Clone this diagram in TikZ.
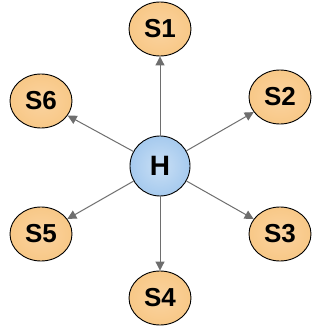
\documentclass[tikz,border=0pt]{standalone}
\usepackage{fontspec}
\setmainfont{Liberation Sans}
\usetikzlibrary{arrows.meta,shapes.geometric}
\definecolor{sfill}{HTML}{F8C887}
\definecolor{sinner}{HTML}{FAD3A0}
\definecolor{hfill}{HTML}{A6CAEE}
\definecolor{hinner}{HTML}{C9DFF5}
\definecolor{arr}{HTML}{6E6E6E}
\tikzset{
  snode/.style={ellipse,draw=black,line width=0.9pt,minimum width=62pt,minimum height=54pt,inner sep=0pt,
    inner color=sinner,outer color=sfill,font=\fontsize{26}{26}\selectfont\bfseries},
  hnode/.style={circle,draw=black,line width=0.9pt,minimum size=60pt,inner sep=0pt,
    inner color=hinner,outer color=hfill,font=\fontsize{28}{28}\selectfont\bfseries},
  link/.style={draw=arr,line width=1pt,-{Triangle[length=9pt,width=9pt]}}
}
\begin{document}
\begin{tikzpicture}[x=1pt,y=-1pt]
\useasboundingbox (0,0) rectangle (336,328);
\node[hnode] (H) at (160,166) {H};
\node[snode] (S1) at (160,29) {S1};
\node[snode] (S2) at (280,97) {S2};
\node[snode] (S3) at (280,234) {S3};
\node[snode] (S4) at (160,298) {S4};
\node[snode] (S5) at (41,234) {S5};
\node[snode] (S6) at (41,101) {S6};
\foreach \s in {S1,S2,S3,S4,S5,S6} \draw[link] (H) -- (\s);
\end{tikzpicture}
\end{document}
